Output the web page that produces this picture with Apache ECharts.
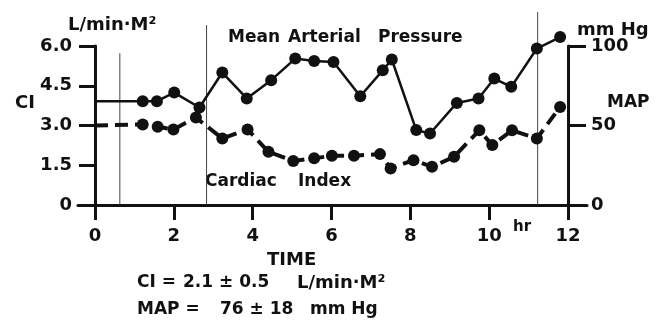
<!DOCTYPE html>
<html>
<head>
<meta charset="utf-8">
<script src="https://cdn.jsdelivr.net/npm/echarts@6/dist/echarts.min.js"></script>
<style>
  html, body { margin: 0; padding: 0; background: #fff; }
  #chart { width: 663px; height: 332px; }
</style>
</head>
<body>
<div id="chart"></div>
<script>
// Cardiac index (L/min·M²) over time (hr)
const ciHours = [0, 1.21, 1.59, 1.99, 2.56, 3.23, 3.87, 4.40, 5.03, 5.56, 6.01, 6.57, 7.23, 7.50, 8.08, 8.55, 9.11, 9.75, 10.08, 10.58, 11.21, 11.80];
const ciValues = [3.0, 3.04, 2.95, 2.85, 3.30, 2.51, 2.85, 2.01, 1.66, 1.76, 1.86, 1.86, 1.92, 1.38, 1.69, 1.44, 1.82, 2.82, 2.26, 2.82, 2.51, 3.70];

// Mean arterial pressure (mm Hg) over time (hr)
const mapHours = [0, 1.21, 1.57, 2.01, 2.65, 3.23, 3.85, 4.47, 5.08, 5.56, 6.05, 6.73, 7.30, 7.53, 8.15, 8.50, 9.18, 9.73, 10.13, 10.56, 11.21, 11.80];
const mapValues = [65.3, 65.3, 65.3, 70.7, 61.3, 83.3, 67, 78.5, 92.1, 90.6, 90, 68.4, 84.7, 91.5, 47.1, 45, 64.2, 67, 79.5, 74.3, 98.4, 105.6];

// Thin vertical event markers: hour and top reach (CI units)
const guideHours = [0.63, 2.83, 11.23];
const guideTops = [5.72, 6.78, 7.27];

// Axis ticks
const timeTicks = [0, 2, 4, 6, 8, 10, 12];
const ciTicks = [0, 1.5, 3.0, 4.5, 6.0];
const mapTicks = [0, 50, 100];

const INK = '#111';
const FONT = '"DejaVu Sans", Verdana, sans-serif';

function pairs(xs, ys) {
  return xs.map((x, i) => (i === 0 ? { value: [x, ys[i]], symbol: 'none' } : [x, ys[i]]));
}

const chart = echarts.init(document.getElementById('chart'), null, { renderer: 'canvas' });

const labelStyle = { color: INK, fontFamily: FONT, fontSize: 18, fontWeight: 'bold' };

function txt(text, x, y, size) {
  return {
    type: 'text',
    style: {
      text, x, y,
      fill: INK,
      font: 'bold ' + (size || 17) + 'px ' + FONT,
      verticalAlign: 'middle'
    }
  };
}

const option = {
  backgroundColor: '#fff',
  animation: false,
  grid: [
    { left: 95, right: 95, top: 46, bottom: 127 },
    { left: 95, right: 95, top: 6, bottom: 127 },
    { left: 78, right: 76, top: 46, bottom: 127 }
  ],
  xAxis: [
    {
      gridIndex: 0, type: 'value', min: 0, max: 12, interval: 2,
      axisLine: { show: false },
      axisTick: { show: true, inside: false, length: 15, lineStyle: { color: INK, width: 3 } },
      axisLabel: Object.assign({ margin: 22, formatter: v => (timeTicks.includes(v) ? String(v) : '') }, labelStyle),
      splitLine: { show: false }
    },
    {
      gridIndex: 1, type: 'value', min: 0, max: 12, show: false
    },
    {
      gridIndex: 2, type: 'value', min: 0, max: 1,
      axisLine: { show: true, onZero: false, lineStyle: { color: INK, width: 3 } },
      axisTick: { show: false }, axisLabel: { show: false }, splitLine: { show: false }
    }
  ],
  yAxis: [
    {
      gridIndex: 0, type: 'value', min: 0, max: 6, interval: 1.5, position: 'left',
      axisLine: { show: true, lineStyle: { color: INK, width: 3 } },
      axisTick: { show: true, inside: false, length: 16, lineStyle: { color: INK, width: 3 } },
      axisLabel: Object.assign({ margin: 23, formatter: v => (v === 0 ? '0' : v.toFixed(1)) }, labelStyle),
      splitLine: { show: false }
    },
    {
      gridIndex: 0, type: 'value', min: 0, max: 100, interval: 50, position: 'right',
      axisLine: { show: true, lineStyle: { color: INK, width: 3 } },
      axisTick: { show: true, inside: false, length: 18, lineStyle: { color: INK, width: 3 } },
      axisLabel: Object.assign({ margin: 23, formatter: v => (mapTicks.includes(v) ? String(v) : '') }, labelStyle),
      splitLine: { show: false }
    },
    {
      gridIndex: 1, type: 'value', min: 0, max: 7.5, show: false
    },
    {
      gridIndex: 2, type: 'value', min: 0, max: 1, show: false
    }
  ],
  series: [
    ...guideHours.map((h, i) => ({
      type: 'line',
      xAxisIndex: 1, yAxisIndex: 2,
      data: [[h, 0], [h, guideTops[i]]],
      symbol: 'none',
      silent: true,
      z: 1,
      lineStyle: { color: '#444', width: 1 }
    })),
    {
      name: 'Mean Arterial Pressure',
      type: 'line',
      xAxisIndex: 0, yAxisIndex: 1,
      data: pairs(mapHours, mapValues),
      clip: false,
      symbol: 'circle',
      symbolSize: 12,
      itemStyle: { color: INK },
      lineStyle: { color: INK, width: 2.5 },
      z: 3
    },
    {
      name: 'Cardiac Index',
      type: 'line',
      xAxisIndex: 0, yAxisIndex: 0,
      data: pairs(ciHours, ciValues),
      clip: false,
      symbol: 'circle',
      symbolSize: 12,
      itemStyle: { color: INK },
      lineStyle: { color: INK, width: 4, type: [13, 7] },
      z: 3
    }
  ],
  graphic: [
    txt('L/min·M²', 68, 25, 18),
    txt('CI', 15, 103, 18),
    txt('mm Hg', 577, 30, 18),
    txt('MAP', 607, 103, 17),
    txt('Mean', 228, 38),
    txt('Arterial', 288, 38),
    txt('Pressure', 378, 38),
    txt('Cardiac', 205, 182),
    txt('Index', 298, 182),
    txt('TIME', 267, 260, 18),
    txt('hr', 513, 227, 15),
    txt('CI =', 137, 283),
    txt('2.1 ± 0.5', 183, 283),
    txt('L/min·M²', 297, 283, 18),
    txt('MAP =', 137, 310),
    txt('76 ± 18', 220, 310),
    txt('mm Hg', 310, 310)
  ]
};

chart.setOption(option);
</script>
</body>
</html>
